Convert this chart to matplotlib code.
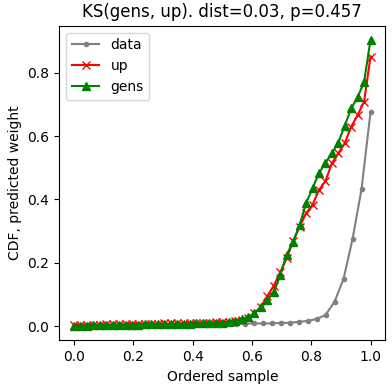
import numpy as np
import matplotlib
matplotlib.use("Agg")
import matplotlib.pyplot as plt

# gray "data" curve: 34 points
data_y = [0.000, 0.000, 0.001, 0.001, 0.001, 0.002, 0.002, 0.002, 0.003, 0.003,
          0.003, 0.004, 0.004, 0.004, 0.005, 0.005, 0.005, 0.006, 0.006, 0.007,
          0.008, 0.008, 0.008, 0.010, 0.010, 0.013, 0.016, 0.022, 0.035, 0.077,
          0.149, 0.275, 0.433, 0.676]

# red "up" curve: 47 points
up_y = [0.003, 0.003, 0.004, 0.004, 0.004, 0.005, 0.005, 0.005, 0.006, 0.006,
        0.006, 0.007, 0.007, 0.007, 0.008, 0.008, 0.008, 0.009, 0.009, 0.010,
        0.010, 0.011, 0.012, 0.013, 0.014, 0.016, 0.018, 0.024, 0.040, 0.061,
        0.095, 0.128, 0.170, 0.215, 0.268, 0.314, 0.356, 0.383, 0.430, 0.458,
        0.514, 0.546, 0.578, 0.630, 0.667, 0.709, 0.852]

# green "gens" curve: 47 points
gens_y = [0.000, 0.001, 0.001, 0.002, 0.002, 0.003, 0.003, 0.003, 0.004, 0.004,
          0.004, 0.005, 0.005, 0.005, 0.006, 0.006, 0.006, 0.007, 0.007, 0.008,
          0.008, 0.009, 0.010, 0.011, 0.013, 0.017, 0.021, 0.027, 0.042, 0.059,
          0.082, 0.108, 0.161, 0.225, 0.267, 0.319, 0.388, 0.435, 0.483, 0.516,
          0.546, 0.580, 0.633, 0.688, 0.723, 0.772, 0.904]

data_x = np.linspace(0, 1, len(data_y))
up_x = np.linspace(0, 1, len(up_y))
gens_x = np.linspace(0, 1, len(gens_y))

fig = plt.figure(figsize=(3.92, 3.86), dpi=100)
ax = fig.add_axes([0.151, 0.1184, 0.983 - 0.151, 0.9332 - 0.1184])
ax.plot(data_x, data_y, marker='.', color='gray', label='data')
ax.plot(up_x, up_y, marker='x', color='red', label='up')
ax.plot(gens_x, gens_y, marker='^', color='green', label='gens')
ax.set_title("KS(gens, up). dist=0.03, p=0.457")
ax.set_xlabel("Ordered sample")
ax.set_ylabel("CDF, predicted weight")
ax.legend(loc='upper left')
fig.savefig("out.png", dpi=100)
